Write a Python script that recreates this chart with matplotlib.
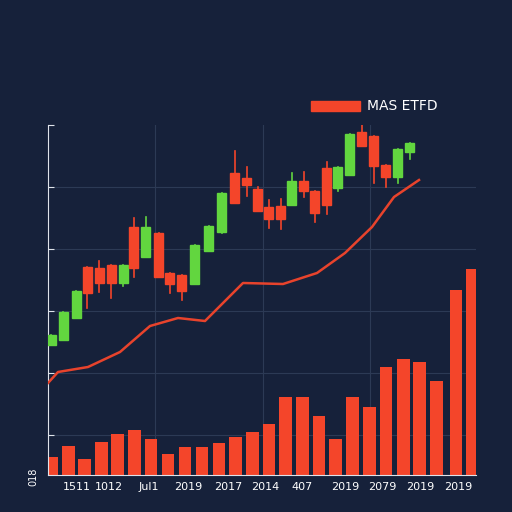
import matplotlib
matplotlib.use("Agg")
import matplotlib.pyplot as plt
from matplotlib.patches import Rectangle

BG = "#16213a"
RED = "#f4452a"
GREEN = "#62d63f"

# ---------- data (chart units: 0..350 tall, x 48..476) ----------
bar_x = [52, 68.5, 84.5, 101.5, 117.5, 134.5, 151, 168, 185, 202, 219, 235.5, 252.5,
         269, 285.5, 302.5, 319, 335.5, 352.5, 369.5, 386, 403.5, 419.5, 436.5, 456, 472]
bar_h = [18, 29, 16, 33, 41, 45, 36, 21, 28, 28, 32, 38, 43, 51, 78, 78, 59, 36, 78, 68,
         108, 116, 113, 94, 185, 206]

candle_x = [51, 63, 76, 87, 99, 111, 123, 134, 146, 159, 170, 182, 195, 209, 222, 235, 247,
            258, 269, 281, 292, 304, 315, 327, 338, 350, 362, 374, 386, 398, 410]
c_open  = [130, 135, 157, 208, 207, 210, 192, 248, 218, 242, 202, 200, 191, 224, 243, 302, 297,
           286, 268, 269, 270, 294, 284, 307, 287, 300, 343, 339, 310, 298, 323]
c_close = [140, 163, 184, 182, 192, 192, 210, 207, 248, 198, 191, 184, 230, 249, 282, 272, 290,
           264, 256, 256, 294, 284, 262, 270, 308, 341, 329, 309, 298, 326, 332]
c_high  = [140, 163, 184, 208, 214, 210, 210, 257, 258, 242, 202, 200, 230, 249, 282, 324, 308,
           288, 275, 276, 302, 303, 284, 313, 308, 341, 352, 339, 310, 326, 332]
c_low   = [130, 135, 157, 167, 183, 177, 189, 198, 218, 198, 182, 175, 191, 224, 242, 272, 279,
           264, 247, 246, 270, 278, 253, 261, 284, 300, 329, 292, 288, 292, 316]

line_x = [48, 58, 88, 120, 150, 178, 205, 243, 283, 317, 345, 372, 394, 419]
line_y = [92, 103, 108, 123, 149, 157, 154, 192, 191, 202, 222, 248, 278, 295]

tick_labels = ["1511", "1012", "Jul1", "2019", "2017", "2014", "407", "2019", "2079", "2019", "2019"]
tick_pos = [77, 109, 149, 188, 228, 265, 302, 345, 382, 420, 458]

fig = plt.figure(figsize=(5.12, 5.12), dpi=100, facecolor=BG)
ax = fig.add_axes([48/512, 37/512, 428/512, 350/512], facecolor=BG)
ax.set_xlim(48, 476)
ax.set_ylim(0, 350)

for y in [40, 102, 164, 226, 288]:
    ax.axhline(y, color="#2c3a55", lw=0.8, zorder=0)
for x in [155, 263, 370]:
    ax.axvline(x, color="#2c3a55", lw=0.8, zorder=0)

ax.bar(bar_x, bar_h, width=12.5, color=RED, zorder=2)

for x, o, c, h, l in zip(candle_x, c_open, c_close, c_high, c_low):
    col = GREEN if c > o else RED
    ax.plot([x, x], [l, h], color=col, lw=1.2, zorder=3)
    ax.add_patch(Rectangle((x - 4.5, min(o, c)), 9, abs(c - o), color=col, zorder=4))

ax.plot(line_x, line_y, color="#e8432c", lw=1.8, zorder=5)

for s in ["top", "right"]:
    ax.spines[s].set_visible(False)
ax.spines["left"].set_color("#dfe3ea")
ax.spines["bottom"].set_color("#dfe3ea")
ax.set_yticks([40, 102, 164, 226, 288, 350])
ax.set_yticklabels([])
ax.tick_params(axis="y", colors="#dfe3ea", direction="in", length=4)
ax.set_xticks(tick_pos)
ax.set_xticklabels(tick_labels, color="white", fontsize=8)
ax.tick_params(axis="x", length=0, pad=5)

fig.text(33/512, 1 - 477/512, "018", color="white", fontsize=7, rotation=90, ha="center", va="center")

fig.patches.append(Rectangle((311/512, 1 - 111/512), 49/512, 10/512, color=RED,
                             transform=fig.transFigure, figure=fig))
fig.text(367/512, 1 - 106/512, "MAS ETFD", color="white", fontsize=10, va="center")

fig.savefig("out.png", dpi=100, facecolor=BG)
